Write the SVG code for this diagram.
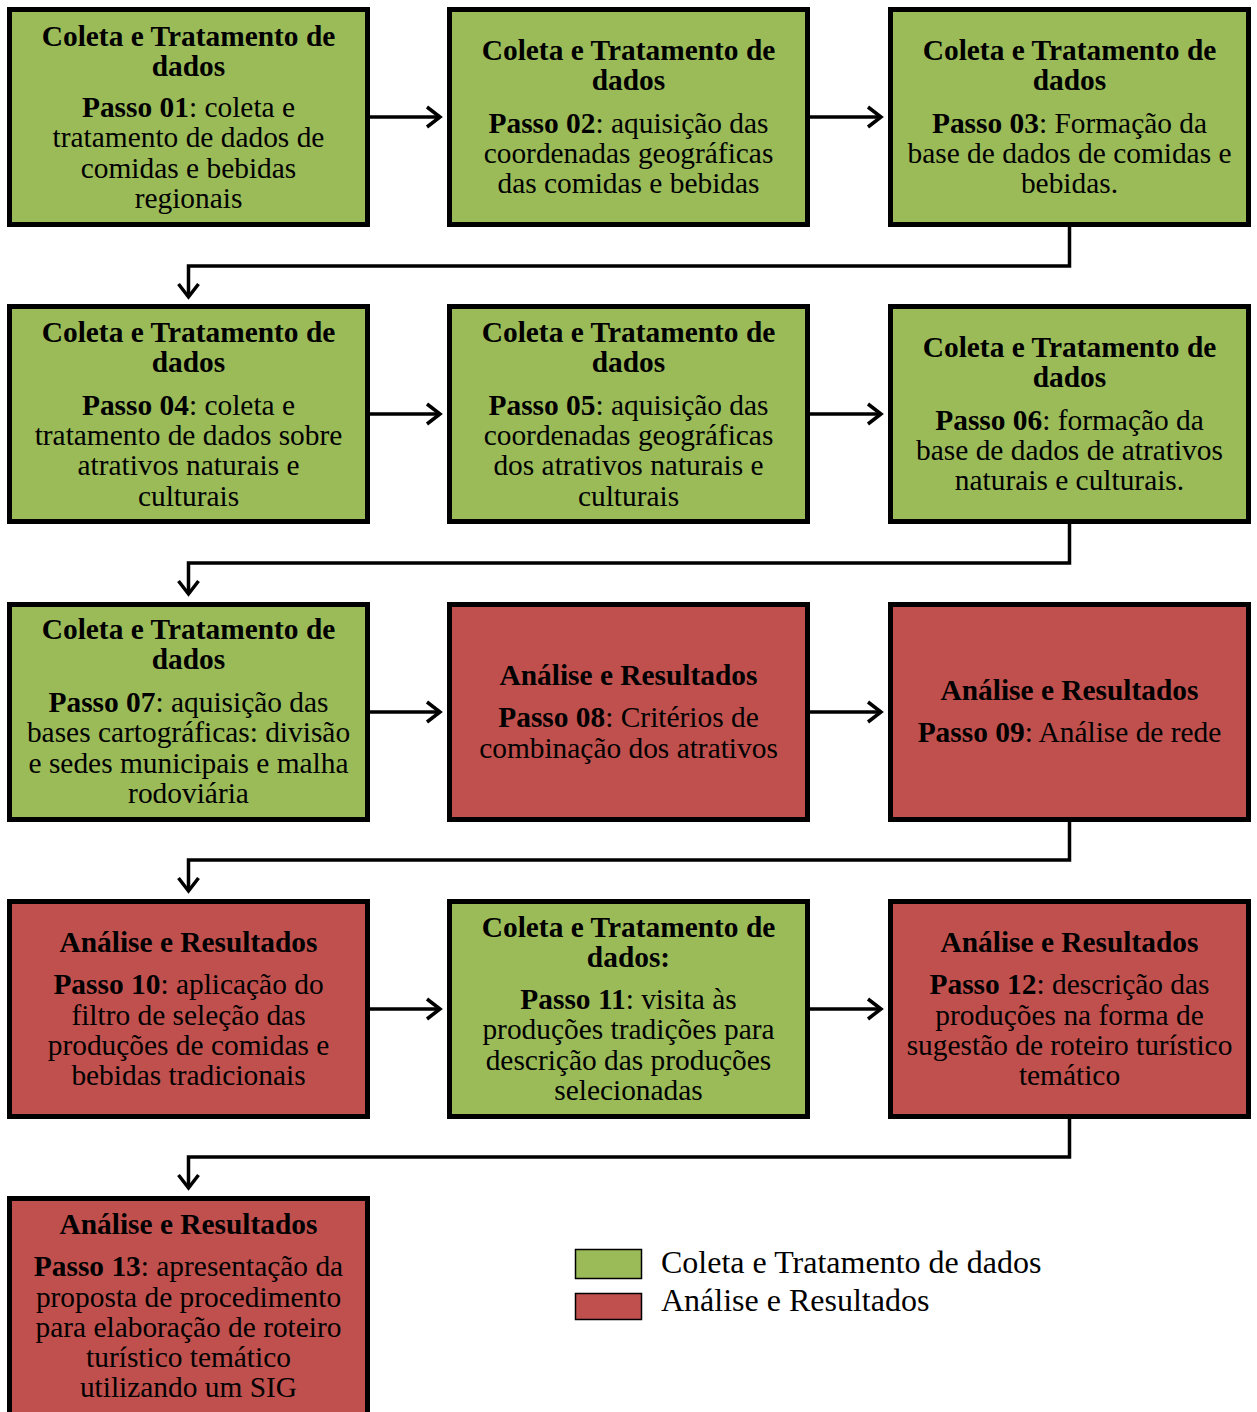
<svg xmlns="http://www.w3.org/2000/svg" width="1257" height="1412" viewBox="0 0 1257 1412">
<style>
.g{fill:#9BBB59;stroke:#000;stroke-width:5}
.r{fill:#C0504D;stroke:#000;stroke-width:5}
text{font-family:"Liberation Serif","Times New Roman",serif;font-size:29.4px;fill:#000;text-anchor:middle}
.b{font-weight:bold}
.c{fill:none;stroke:#000;stroke-width:3.5}
.lg{text-anchor:start;font-size:32px}
</style>
<defs>
<marker id="a" viewBox="0 0 24 24" refX="15" refY="12" markerWidth="24" markerHeight="24" markerUnits="userSpaceOnUse" orient="auto">
<polyline points="2,2 15,12 2,22" fill="none" stroke="#000" stroke-width="3.5"/>
</marker>
</defs>
<rect width="1257" height="1412" fill="#fff"/>
<g id="connectors">
<line class="c" x1="370" y1="117" x2="440" y2="117" marker-end="url(#a)"/>
<line class="c" x1="810" y1="117" x2="881" y2="117" marker-end="url(#a)"/>
<polyline class="c" points="1069.5,226 1069.5,266 188.5,266 188.5,297" marker-end="url(#a)"/>
<line class="c" x1="370" y1="414" x2="440" y2="414" marker-end="url(#a)"/>
<line class="c" x1="810" y1="414" x2="881" y2="414" marker-end="url(#a)"/>
<polyline class="c" points="1069.5,523 1069.5,563 188.5,563 188.5,594" marker-end="url(#a)"/>
<line class="c" x1="370" y1="712" x2="440" y2="712" marker-end="url(#a)"/>
<line class="c" x1="810" y1="712" x2="881" y2="712" marker-end="url(#a)"/>
<polyline class="c" points="1069.5,821 1069.5,860 188.5,860 188.5,891" marker-end="url(#a)"/>
<line class="c" x1="370" y1="1009" x2="440" y2="1009" marker-end="url(#a)"/>
<line class="c" x1="810" y1="1009" x2="881" y2="1009" marker-end="url(#a)"/>
<polyline class="c" points="1069.5,1118 1069.5,1157 188.5,1157 188.5,1188" marker-end="url(#a)"/>
</g>
<g id="n1"><rect class="g" x="9.5" y="9.5" width="358" height="215"/>
<text class="b" x="188.5" y="46">Coleta e Tratamento de</text>
<text class="b" x="188.5" y="76">dados</text>
<text x="188.5" y="117"><tspan class="b">Passo 01</tspan>: coleta e</text>
<text x="188.5" y="147">tratamento de dados de</text>
<text x="188.5" y="178">comidas e bebidas</text>
<text x="188.5" y="208">regionais</text></g>
<g id="n2"><rect class="g" x="449.5" y="9.5" width="358" height="215"/>
<text class="b" x="628.5" y="60">Coleta e Tratamento de</text>
<text class="b" x="628.5" y="90">dados</text>
<text x="628.5" y="133"><tspan class="b">Passo 02</tspan>: aquisição das</text>
<text x="628.5" y="163">coordenadas geográficas</text>
<text x="628.5" y="193">das comidas e bebidas</text></g>
<g id="n3"><rect class="g" x="890.5" y="9.5" width="358" height="215"/>
<text class="b" x="1069.5" y="60">Coleta e Tratamento de</text>
<text class="b" x="1069.5" y="90">dados</text>
<text x="1069.5" y="133"><tspan class="b">Passo 03</tspan>: Formação da</text>
<text x="1069.5" y="163">base de dados de comidas e</text>
<text x="1069.5" y="193">bebidas.</text></g>
<g id="n4"><rect class="g" x="9.5" y="306.5" width="358" height="215"/>
<text class="b" x="188.5" y="342">Coleta e Tratamento de</text>
<text class="b" x="188.5" y="372">dados</text>
<text x="188.5" y="415"><tspan class="b">Passo 04</tspan>: coleta e</text>
<text x="188.5" y="445">tratamento de dados sobre</text>
<text x="188.5" y="475">atrativos naturais e</text>
<text x="188.5" y="506">culturais</text></g>
<g id="n5"><rect class="g" x="449.5" y="306.5" width="358" height="215"/>
<text class="b" x="628.5" y="342">Coleta e Tratamento de</text>
<text class="b" x="628.5" y="372">dados</text>
<text x="628.5" y="415"><tspan class="b">Passo 05</tspan>: aquisição das</text>
<text x="628.5" y="445">coordenadas geográficas</text>
<text x="628.5" y="475">dos atrativos naturais e</text>
<text x="628.5" y="506">culturais</text></g>
<g id="n6"><rect class="g" x="890.5" y="306.5" width="358" height="215"/>
<text class="b" x="1069.5" y="357">Coleta e Tratamento de</text>
<text class="b" x="1069.5" y="387">dados</text>
<text x="1069.5" y="430"><tspan class="b">Passo 06</tspan>: formação da</text>
<text x="1069.5" y="460">base de dados de atrativos</text>
<text x="1069.5" y="490">naturais e culturais.</text></g>
<g id="n7"><rect class="g" x="9.5" y="604.5" width="358" height="215"/>
<text class="b" x="188.5" y="639">Coleta e Tratamento de</text>
<text class="b" x="188.5" y="669">dados</text>
<text x="188.5" y="712"><tspan class="b">Passo 07</tspan>: aquisição das</text>
<text x="188.5" y="742">bases cartográficas: divisão</text>
<text x="188.5" y="773">e sedes municipais e malha</text>
<text x="188.5" y="803">rodoviária</text></g>
<g id="n8"><rect class="r" x="449.5" y="604.5" width="358" height="215"/>
<text class="b" x="628.5" y="685">Análise e Resultados</text>
<text x="628.5" y="727"><tspan class="b">Passo 08</tspan>:  Critérios de</text>
<text x="628.5" y="758">combinação dos atrativos</text></g>
<g id="n9"><rect class="r" x="890.5" y="604.5" width="358" height="215"/>
<text class="b" x="1069.5" y="700">Análise e Resultados</text>
<text x="1069.5" y="742"><tspan class="b">Passo 09</tspan>: Análise de rede</text></g>
<g id="n10"><rect class="r" x="9.5" y="901.5" width="358" height="215"/>
<text class="b" x="188.5" y="952">Análise e Resultados</text>
<text x="188.5" y="994"><tspan class="b">Passo 10</tspan>:  aplicação do</text>
<text x="188.5" y="1025">filtro de seleção das</text>
<text x="188.5" y="1055">produções de comidas e</text>
<text x="188.5" y="1085">bebidas tradicionais</text></g>
<g id="n11"><rect class="g" x="449.5" y="901.5" width="358" height="215"/>
<text class="b" x="628.5" y="937">Coleta e Tratamento de</text>
<text class="b" x="628.5" y="967">dados:</text>
<text x="628.5" y="1009"><tspan class="b">Passo 11</tspan>: visita às</text>
<text x="628.5" y="1039">produções tradições para</text>
<text x="628.5" y="1070">descrição das produções</text>
<text x="628.5" y="1100">selecionadas</text></g>
<g id="n12"><rect class="r" x="890.5" y="901.5" width="358" height="215"/>
<text class="b" x="1069.5" y="952">Análise e Resultados</text>
<text x="1069.5" y="994"><tspan class="b">Passo 12</tspan>:  descrição das</text>
<text x="1069.5" y="1025">produções na forma de</text>
<text x="1069.5" y="1055">sugestão de roteiro turístico</text>
<text x="1069.5" y="1085">temático</text></g>
<g id="n13"><rect class="r" x="9.5" y="1198.5" width="358" height="230"/>
<text class="b" x="188.5" y="1234">Análise e Resultados</text>
<text x="188.5" y="1276"><tspan class="b">Passo 13</tspan>: apresentação da</text>
<text x="188.5" y="1307">proposta de procedimento</text>
<text x="188.5" y="1337">para elaboração de roteiro</text>
<text x="188.5" y="1367">turístico temático</text>
<text x="188.5" y="1397">utilizando um SIG</text></g>
<g id="legend">
<rect x="575.5" y="1249.5" width="66" height="29" fill="#9BBB59" stroke="#000" stroke-width="1.5"/>
<rect x="575.5" y="1293.5" width="66" height="26" fill="#C0504D" stroke="#000" stroke-width="1.5"/>
<text class="lg" x="661" y="1273">Coleta e Tratamento de dados</text>
<text class="lg" x="661" y="1311">Análise e Resultados</text>
</g>
</svg>
